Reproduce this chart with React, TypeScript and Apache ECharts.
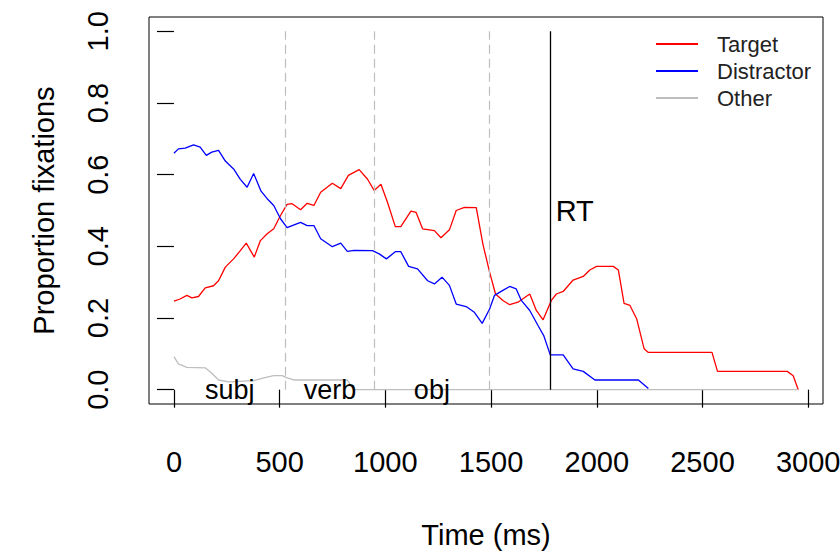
import React, { useEffect, useRef } from "react";
import * as echarts from "echarts";

const seriesNames = ["Target", "Distractor", "Other"];
const seriesColors = ["#FF0000", "#0000FF", "#BEBEBE"];

const targetTime = [0, 29, 61, 85, 116, 148, 187, 211, 243, 282, 314, 342, 380, 409, 441, 472, 504, 535, 559, 599, 630, 662, 694, 749, 789, 825, 876, 915, 947, 979, 1010, 1047, 1073, 1121, 1145, 1176, 1232, 1263, 1303, 1335, 1374, 1430, 1461, 1493, 1521, 1556, 1588, 1627, 1683, 1714, 1746, 1785, 1809, 1841, 1888, 1936, 1967, 1999, 2078, 2102, 2129, 2157, 2189, 2224, 2244, 2545, 2571, 2901, 2929, 2953];
const targetProp = [0.247, 0.253, 0.263, 0.256, 0.26, 0.284, 0.29, 0.304, 0.342, 0.365, 0.388, 0.409, 0.37, 0.416, 0.435, 0.449, 0.486, 0.517, 0.519, 0.502, 0.52, 0.514, 0.551, 0.576, 0.561, 0.598, 0.614, 0.588, 0.556, 0.573, 0.523, 0.455, 0.455, 0.498, 0.495, 0.449, 0.444, 0.424, 0.446, 0.5, 0.509, 0.508, 0.407, 0.328, 0.267, 0.249, 0.237, 0.244, 0.267, 0.221, 0.195, 0.249, 0.267, 0.274, 0.306, 0.316, 0.334, 0.344, 0.344, 0.334, 0.241, 0.235, 0.197, 0.114, 0.104, 0.104, 0.051, 0.051, 0.039, 0.0];

const distractorTime = [0, 21, 53, 93, 124, 153, 179, 211, 243, 282, 314, 346, 377, 412, 441, 472, 504, 535, 599, 630, 662, 694, 749, 789, 820, 852, 939, 971, 1005, 1047, 1073, 1110, 1152, 1200, 1232, 1268, 1303, 1335, 1382, 1421, 1458, 1493, 1516, 1556, 1588, 1619, 1643, 1683, 1722, 1749, 1780, 1841, 1888, 1936, 1991, 2197, 2244];
const distractorProp = [0.66, 0.672, 0.674, 0.683, 0.677, 0.654, 0.663, 0.668, 0.638, 0.616, 0.587, 0.565, 0.603, 0.554, 0.533, 0.514, 0.477, 0.452, 0.467, 0.458, 0.458, 0.421, 0.399, 0.409, 0.386, 0.389, 0.388, 0.379, 0.365, 0.385, 0.385, 0.344, 0.337, 0.304, 0.295, 0.314, 0.291, 0.239, 0.232, 0.216, 0.185, 0.225, 0.263, 0.277, 0.288, 0.281, 0.249, 0.221, 0.179, 0.151, 0.097, 0.097, 0.058, 0.051, 0.027, 0.027, 0.003];

const otherTime = [0, 21, 61, 148, 179, 211, 260, 377, 425, 472, 512, 535, 567, 820, 850, 2953];
const otherProp = [0.092, 0.072, 0.062, 0.061, 0.046, 0.027, 0.022, 0.025, 0.033, 0.039, 0.039, 0.033, 0.027, 0.027, 0.0, 0.0];

const xTicks = [0, 500, 1000, 1500, 2000, 2500, 3000];
const yTicks = [0, 0.2, 0.4, 0.6, 0.8, 1.0];
const regionBounds = [528, 948, 1493];
const regionLabels = ["subj", "verb", "obj"];
const regionMids = [264, 738, 1220];
const rtTime = 1782;
const rtLabelY = 0.5;

const FONT = "'Liberation Sans', Arial, Helvetica, sans-serif";

function zip(t: number[], v: number[]) {
  return t.map((x, i) => [x, v[i]]);
}

export default function App() {
  const ref = useRef<HTMLDivElement>(null);
  useEffect(() => {
    if (!ref.current) return;
    const chart = echarts.init(ref.current, undefined, { renderer: "svg" });
    const times = [targetTime, distractorTime, otherTime];
    const props = [targetProp, distractorProp, otherProp];

    const series: any[] = seriesNames.map((name, i) => ({
      name,
      type: "line",
      data: zip(times[i], props[i]),
      symbol: "none",
      showSymbol: false,
      color: seriesColors[i],
      lineStyle: { color: seriesColors[i], width: 1.3 },
      z: 3,
    }));

    series.push({
      name: "annotations",
      type: "line",
      data: [],
      symbol: "none",
      z: 2,
      markLine: {
        silent: true,
        symbol: "none",
        label: { show: false },
        data: [
          ...regionBounds.map((b) => [
            { coord: [b, 0], lineStyle: { color: "#BEBEBE", type: [9, 5], width: 1.2 } },
            { coord: [b, 1] },
          ]),
          [
            { coord: [rtTime, 0], lineStyle: { color: "#000", type: "solid", width: 1.3 } },
            { coord: [rtTime, 1] },
          ],
        ],
      },
      markPoint: {
        silent: true,
        symbol: "circle",
        symbolSize: 0,
        itemStyle: { color: "transparent" },
        data: [
          ...regionLabels.map((l, i) => ({
            coord: [regionMids[i], 0],
            label: {
              show: true,
              formatter: l,
              position: "inside",
              color: "#000",
              fontSize: 27,
              fontFamily: FONT,
            },
          })),
          {
            coord: [rtTime, rtLabelY],
            label: {
              show: true,
              formatter: "RT",
              position: "right",
              distance: 5,
              color: "#000",
              fontSize: 29,
              fontFamily: FONT,
            },
          },
        ],
      },
    });

    chart.setOption({
      animation: false,
      backgroundColor: "#fff",
      grid: {
        left: 149,
        right: 17,
        top: 17,
        bottom: 148,
        show: true,
        borderColor: "#000",
        borderWidth: 1,
        backgroundColor: "transparent",
        outerBoundsMode: "none",
        containLabel: false,
      },
      legend: {
        data: seriesNames.map((n) => ({ name: n, icon: "rect" })),
        orient: "vertical",
        left: 651,
        top: 28,
        itemWidth: 42,
        itemHeight: 2,
        itemGap: 5,
        textStyle: {
          fontSize: 22,
          color: "#222",
          fontFamily: FONT,
          padding: [0, 0, 0, 14],
        },
      },
      xAxis: {
        type: "value",
        min: -118,
        max: 3070,
        name: "Time (ms)",
        nameLocation: "middle",
        nameGap: 116,
        nameTextStyle: { fontSize: 29, color: "#000", fontFamily: FONT },
        axisLine: { show: false },
        splitLine: { show: false },
        axisTick: {
          show: true,
          customValues: xTicks,
          length: 18,
          lineStyle: { color: "#000", width: 1.2 },
        },
        axisLabel: {
          customValues: xTicks,
          margin: 43,
          fontSize: 29,
          color: "#000",
          fontFamily: FONT,
          formatter: (v: number) => String(v),
        },
      },
      yAxis: {
        type: "value",
        min: -0.04,
        max: 1.04,
        name: "Proportion fixations",
        nameLocation: "middle",
        nameRotate: 90,
        nameGap: 91,
        nameTextStyle: { fontSize: 29, color: "#000", fontFamily: FONT },
        axisLine: { show: false },
        splitLine: { show: false },
        axisTick: {
          show: true,
          customValues: yTicks,
          length: 17,
          lineStyle: { color: "#000", width: 1.2 },
        },
        axisLabel: {
          customValues: yTicks,
          rotate: 90,
          margin: 37,
          fontSize: 29,
          color: "#000",
          fontFamily: FONT,
          formatter: (v: number) => v.toFixed(1),
        },
      },
      series,
    });
    return () => chart.dispose();
  }, []);
  return (
    <div
      ref={ref}
      style={{ position: "fixed", left: 0, top: 0, width: 840, height: 552, background: "#fff" }}
    />
  );
}
